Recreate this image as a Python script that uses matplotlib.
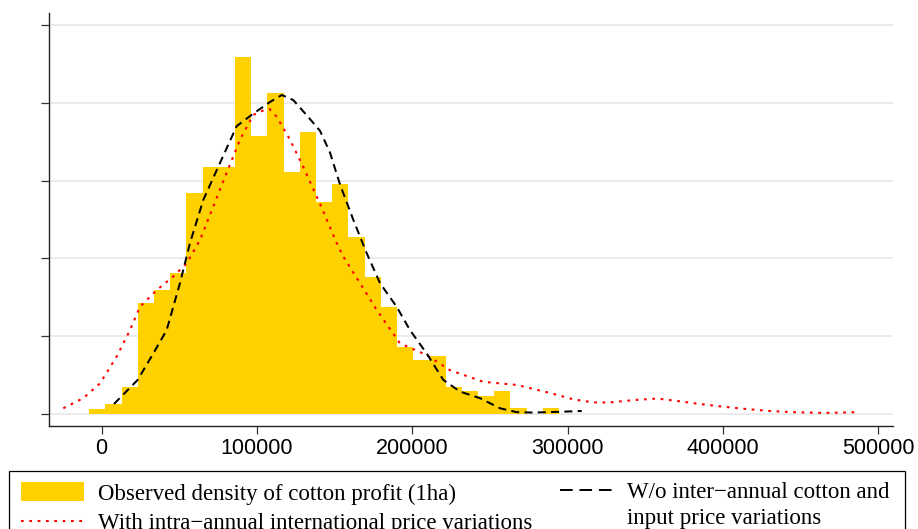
import matplotlib
matplotlib.use("Agg")
import matplotlib.pyplot as plt
import numpy as np
from matplotlib.patches import Patch
from matplotlib.lines import Line2D
from matplotlib.legend_handler import HandlerLine2D

# histogram of observed profit (density, in 1e-6 units)
bin_start = -7985
bin_width = 10431
hist_heights = [0.13, 0.25, 0.69, 2.84, 3.18, 3.63, 5.68, 6.34, 6.34, 9.18,
                7.14, 8.26, 6.22, 7.26, 5.44, 5.90, 4.54, 3.52, 2.74, 1.72,
                1.38, 1.48, 0.70, 0.58, 0.46, 0.58, 0.14, 0.0, 0.14]

# W/o inter-annual cotton and input price variations (dashed)
wo_x = [7920, 23180, 33230, 41850, 50420, 56860, 65420, 76170, 86930, 97620,
        108370, 116000, 123370, 132000, 140570, 147000, 153440, 162010, 170640,
        179200, 189950, 198520, 209270, 219960, 230710, 243590, 256470, 267220,
        277910, 295100, 309080]
wo_y = [0.25, 0.87, 1.55, 2.15, 3.36, 4.39, 5.50, 6.45, 7.40, 7.72,
        8.02, 8.20, 8.07, 7.68, 7.28, 6.72, 5.90, 4.99, 4.13,
        3.36, 2.75, 2.15, 1.55, 0.87, 0.57, 0.40, 0.14, 0.04,
        0.03, 0.05, 0.07]

# With intra-annual international price variations (dotted)
intra_x = [-24730, -11850, -1090, 9660, 18220, 24660, 35420, 46100, 54730, 63300,
           71860, 80490, 89050, 97620, 104000, 108000, 112680, 121250, 129810,
           140570, 151320, 155570, 166320, 177080, 192080, 209270, 224270,
           245720, 267220, 289050, 303670, 316550, 327300, 342310, 357370,
           370250, 385250, 400260, 415330, 430140, 445330, 464650, 488060]
intra_y = [0.14, 0.40, 0.78, 1.47, 2.15, 2.75, 3.18, 3.53, 3.87, 4.47,
           5.33, 6.20, 7.05, 7.69, 7.80, 7.84, 7.64, 7.05, 6.35,
           5.40, 4.39, 4.04, 3.36, 2.67, 1.81, 1.51, 1.12,
           0.82, 0.74, 0.53, 0.37, 0.29, 0.29, 0.35, 0.39,
           0.33, 0.25, 0.18, 0.12, 0.07, 0.04, 0.02, 0.04]

x_ticks = [0, 100000, 200000, 300000, 400000, 500000]
y_ticks = [0, 2, 4, 6, 8, 10]

yellow = "#FFD100"
dotted = (0, (1.3, 2.7))
dashed = (0, (4, 2.6))

fig = plt.figure(figsize=(9.18, 5.29), dpi=100)
ax = fig.add_axes([48.7 / 918, 1 - 426 / 529, (893 - 48.7) / 918, (426 - 13) / 529])

lefts = bin_start + bin_width * np.arange(len(hist_heights))
ax.bar(lefts, hist_heights, width=bin_width, align="edge", color=yellow,
       linewidth=0, zorder=2)
ax.plot(intra_x, intra_y, color="#ff0000", lw=1.5, linestyle=dotted, zorder=3)
ax.plot(wo_x, wo_y, color="black", lw=1.45, linestyle=dashed, zorder=4)

ax.set_xlim(-34100, 509500)
ax.set_ylim(-0.316, 10.31)
ax.set_xticks(x_ticks)
ax.set_xticklabels([str(t) for t in x_ticks], fontfamily="Liberation Sans", fontsize=15.5)
ax.set_yticks(y_ticks)
ax.set_yticklabels([])
ax.yaxis.grid(True, color="#e6e6e6", lw=1.1, zorder=0)
ax.set_axisbelow(True)
ax.tick_params(axis="both", direction="out", length=5.8, width=0.9, color="#333333")
ax.tick_params(axis="x", pad=2.5)
for s in ["top", "right"]:
    ax.spines[s].set_visible(False)
for s in ["left", "bottom"]:
    ax.spines[s].set_color("#222222")
    ax.spines[s].set_linewidth(1.0)

# legend: framed box with the first column, second column placed inside it
W, H = 918, 529
legprop = {"family": "Liberation Serif", "size": 16.5}
h_hist = Patch(facecolor=yellow, edgecolor="none")
h_intra = Line2D([], [], color="#ff0000", lw=1.5, linestyle=dotted)
h_wo = Line2D([], [], color="black", lw=1.4, linestyle=(0, (6.5, 3.5)))
h_blank = Line2D([], [], color="none")

leg1 = fig.legend([h_hist, h_intra],
                  ["Observed density of cotton profit (1ha)",
                   "With intra\u2212annual international price variations"],
                  loc="upper left", mode="expand",
                  bbox_to_anchor=(9.3 / W, 1 - 470.7 / H, (905 - 9.3) / W, 0),
                  borderaxespad=0, fancybox=False, edgecolor="black",
                  framealpha=1, prop=legprop,
                  handlelength=2.75, handleheight=0.9, handletextpad=0.6,
                  labelspacing=0.32, borderpad=0.5)
leg1.get_frame().set_linewidth(0.9)

leg2 = fig.legend([h_wo, h_blank],
                  ["W/o inter\u2212annual cotton and", "input price variations"],
                  loc="upper left", bbox_to_anchor=(549 / W, 1 - 481 / H),
                  borderaxespad=0, frameon=False, prop=legprop,
                  handlelength=2.75, handleheight=0.9, handletextpad=0.65,
                  labelspacing=0.12, borderpad=0,
                  handler_map={h_wo: HandlerLine2D(xpad=0.48)})

fig.savefig("out.png", dpi=100)
